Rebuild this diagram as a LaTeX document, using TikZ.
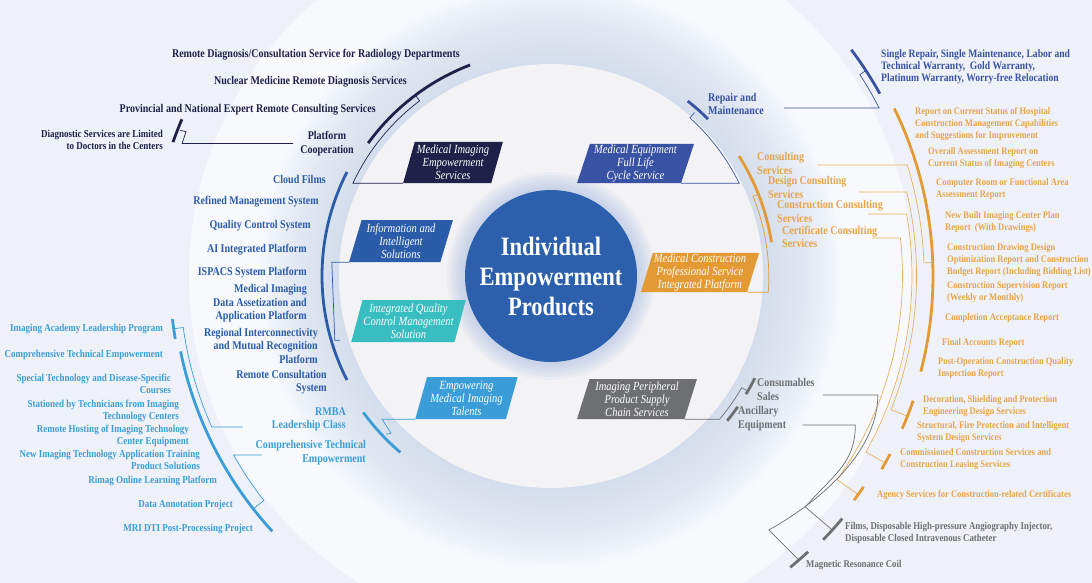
\documentclass[tikz,border=0pt]{standalone}
\usepackage{fontspec}
\setmainfont{Liberation Serif}[FakeStretch=0.85]
\usetikzlibrary{shapes.geometric}
\definecolor{paper}{HTML}{EEF2F8}
\definecolor{halo}{HTML}{F7F9FC}
\definecolor{glow}{HTML}{C9D6EC}
\definecolor{disc}{HTML}{F3F3F5}
\definecolor{coreglow}{HTML}{9FB8E0}
\definecolor{coreblue}{HTML}{2C60AD}
\definecolor{navy}{HTML}{1F2148}
\definecolor{repairblue}{HTML}{3A52A4}
\definecolor{infoblue}{HTML}{2B5CA9}
\definecolor{qcteal}{HTML}{38BEC1}
\definecolor{talentblue}{HTML}{3B9DD8}
\definecolor{supplygrey}{HTML}{6E6F73}
\definecolor{buildorange}{HTML}{E39A35}
\definecolor{buildtext}{HTML}{E8A448}

\begin{document}
\begin{tikzpicture}[x=1pt,y=-1pt,
  tag/.style={trapezium, trapezium left angle=73, trapezium right angle=107, trapezium stretches=true, inner sep=1pt, text=white, align=center, font=\fontsize{12.4}{13}\selectfont\itshape},
  lbl/.style={inner sep=0pt, font=\fontsize{11.8}{13.5}\selectfont\bfseries},
  sml/.style={inner sep=0pt, font=\fontsize{#1}{12}\selectfont\bfseries},
  wire/.style={line width=0.7pt},
  bar/.style={line width=2.8pt}]
\useasboundingbox (0,0) rectangle (1092,583);
\clip (0,0) rectangle (1092,583);
\fill[paper] (0,0) rectangle (1092,583);
\coordinate (c) at (551,276);
\fill[halo] (c) circle (362);
\foreach \r in {290,286,...,214} \fill[glow, opacity=0.05] (c) circle (\r);
\fill[disc] (c) circle (212);
\foreach \r in {104,101,...,88} \fill[coreglow, opacity=0.1] (c) circle (\r);
\node[circle, fill=coreblue, minimum size=172, inner sep=0pt, text=white, align=center, font=\fontsize{26.5}{30}\selectfont\bfseries] (core) at (c) {Individual\\Empowerment\\Products};

\node[tag, fill=navy, minimum width=100, minimum height=41] (mis) at (453,162.5) {Medical Imaging\\Empowerment\\Services};
\node[tag, fill=repairblue, minimum width=117, minimum height=39] (meq) at (635.5,163.5) {Medical Equipment\\Full Life\\Cycle Service};
\node[tag, fill=infoblue, minimum width=104, minimum height=42] (info) at (401,241) {Information and\\Intelligent\\Solutions};
\node[tag, fill=qcteal, minimum width=103, minimum height=42] (iqc) at (408.5,321) {Integrated Quality\\Control Management\\Solution};
\node[tag, fill=talentblue, minimum width=103, minimum height=42] (emt) at (466.5,398) {Empowering\\Medical Imaging\\Talents};
\node[tag, fill=supplygrey, minimum width=120, minimum height=40] (ips) at (637,399) {Imaging Peripheral\\Product Supply\\Chain Services};
\node[tag, fill=buildorange, minimum width=110, minimum height=39] (mcp) at (700,272.5) {Medical Construction\\Professional Service\\Integrated Platform};

\node[lbl, text=navy, anchor=east] (rdcs) at (460,55) {Remote Diagnosis/Consultation Service for Radiology Departments};
\node[lbl, text=navy, anchor=east] (nmrd) at (407,82) {Nuclear Medicine Remote Diagnosis Services};
\node[lbl, text=navy, anchor=east] (pner) at (376,110) {Provincial and National Expert Remote Consulting Services};
\node[lbl, text=navy, align=center] (platform) at (327,143.5) {Platform\\Cooperation};
\node[sml=10.6, text=navy, anchor=east, align=right] (dslim) at (163,140) {Diagnostic Services are Limited\\to Doctors in the Centers};
\draw[bar, navy] (c) ++(216:226) arc[start angle=216, end angle=249, radius=226];
\draw[wire, navy] (mis.bottom left corner) -- ++(-50,0) arc[start angle=205, end angle=233, radius=219] -- ++(233:7);
\draw[bar, navy] (c) ++(199.5:401) arc[start angle=199.5, end angle=203, radius=401];
\draw[wire, navy] ([xshift=-7pt]platform.west) -- ++(-111,0) -- ++(4,-12) -- ++(-6,-1);

\node[lbl, text=repairblue, anchor=west, align=left] (repair) at (708,104) {Repair and\\Maintenance};
\node[sml=11.3, text=repairblue, anchor=west, align=left] (srsm) at (881,67) {Single Repair, Single Maintenance, Labor and\\Technical Warranty,\ \ Gold Warranty,\\Platinum Warranty, Worry-free Relocation};
\draw[wire, repairblue] (meq.bottom right corner) -- ++(58,0) arc[start angle=334, end angle=312, radius=215] -- ++(312:7);
\draw[bar, repairblue] (c) ++(308:222) arc[start angle=308, end angle=315, radius=222];
\draw[wire, repairblue] ([xshift=20pt,yshift=-4pt]repair.east) -- ++(95,0) arc[start angle=333, end angle=327, radius=369] -- ++(327:7);
\draw[bar, repairblue] (c) ++(323:376) arc[start angle=323, end angle=331, radius=376];

\node[lbl, text=buildtext, anchor=west, align=left] (cons) at (757,163.5) {Consulting\\Services};
\node[lbl, text=buildtext, anchor=west, align=left] (des) at (768,187.5) {Design Consulting\\Services};
\node[lbl, text=buildtext, anchor=west, align=left] (con) at (777,211.5) {Construction Consulting\\Services};
\node[lbl, text=buildtext, anchor=west, align=left] (cert) at (782,237) {Certificate Consulting\\Services};
\draw[wire, buildorange] (mcp.bottom right corner) -- ++(21,0) arc[start angle=4, end angle=-22, radius=216] -- ++(-22:7);
\draw[bar, buildorange] (c) ++(-32.5:223) arc[start angle=-32.5, end angle=-8.7, radius=223];
\draw[wire, buildorange!80] ([xshift=13pt,yshift=-1.5pt]cons.east) -- ++(90,0) arc[start angle=-17.3, end angle=-2, radius=373] -- ++(-2:9);
\draw[wire, buildorange!80] ([xshift=12pt,yshift=-4.5pt]des.east) -- ++(48,0) arc[start angle=-13.3, end angle=21.5, radius=365] -- ++(21.5:18);
\draw[wire, buildorange!80] ([xshift=-15pt,yshift=-2.5pt]con.east) -- ++(38.6,0) arc[start angle=-9.9, end angle=29.3, radius=360] -- ++(29.3:23);
\draw[wire, buildorange!80] ([xshift=-5pt,yshift=-1pt]cert.east) -- ++(28,0) arc[start angle=-6.2, end angle=35.5, radius=351] -- ++(35.5:26);
\draw[bar, buildorange] (c) ++(-26:382) arc[start angle=-26, end angle=14.5, radius=382];
\draw[bar, buildorange] (c) ++(19:383) arc[start angle=19, end angle=23.5, radius=383];
\draw[bar, buildorange] (c) ++(27.7:383) arc[start angle=27.7, end angle=30.3, radius=383];
\draw[bar, buildorange] (c) ++(34:377) arc[start angle=34, end angle=36.5, radius=377];
\node[sml=10, text=buildtext, anchor=west, align=left] (rcsh) at (915,124) {Report on Current Status of Hospital\\Construction Management Capabilities\\and Suggestions for Improvement};
\node[sml=10, text=buildtext, anchor=west, align=left] (oar) at (928,158.5) {Overall Assessment Report on\\Current Status of Imaging Centers};
\node[sml=10, text=buildtext, anchor=west, align=left] (crfa) at (936,189.5) {Computer Room or Functional Area\\Assessment Report};
\node[sml=10, text=buildtext, anchor=west, align=left] (nbic) at (945,222.5) {New Built Imaging Center Plan\\Report\ \ (With Drawings)};
\node[sml=10, text=buildtext, anchor=west, align=left] (cddo) at (947,260) {Construction Drawing Design\\Optimization Report and Construction\\Budget Report (Including Bidding List)};
\node[sml=10, text=buildtext, anchor=west, align=left] (csr) at (947,292) {Construction Supervision Report\\(Weekly or Monthly)};
\node[sml=10, text=buildtext, anchor=west] (car) at (945,318) {Completion Acceptance Report};
\node[sml=10, text=buildtext, anchor=west] (far) at (942,343) {Final Accounts Report};
\node[sml=10, text=buildtext, anchor=west, align=left] (pocq) at (938,368.5) {Post-Operation Construction Quality\\Inspection Report};
\node[sml=10, text=buildtext, anchor=west, align=left] (dsp) at (923,406.5) {Decoration, Shielding and Protection\\Engineering Design Services};
\node[sml=10, text=buildtext, anchor=west, align=left] (sfpi) at (917,432) {Structural, Fire Protection and Intelligent\\System Design Services};
\node[sml=10, text=buildtext, anchor=west, align=left] (ccs) at (900,459.5) {Commissioned Construction Services and\\Construction Leasing Services};
\node[sml=10, text=buildtext, anchor=west] (asc) at (877,495) {Agency Services for Construction-related Certificates};

\node[lbl, text=supplygrey, anchor=west, align=left] (csales) at (757,389.5) {Consumables\\Sales};
\node[lbl, text=supplygrey, anchor=west, align=left] (anceq) at (738,418.5) {Ancillary\\Equipment};
\node[sml=10.35, text=supplygrey, anchor=west, align=left] (films) at (845,533) {Films, Disposable High-pressure Angiography Injector,\\Disposable Closed Intravenous Catheter};
\node[sml=10.35, text=supplygrey, anchor=west] (mrc) at (806,565) {Magnetic Resonance Coil};
\draw[wire, supplygrey] (ips.bottom right corner) -- ++(35,0) arc[start angle=40, end angle=30, radius=221] -- ++(30:7);
\draw[bar, supplygrey] (c) ++(26.6:228) arc[start angle=26.6, end angle=31.2, radius=228];
\draw[bar, supplygrey] (c) ++(35:228) arc[start angle=35, end angle=39.4, radius=228];
\draw[wire, supplygrey] ([xshift=8pt,yshift=-5.5pt]csales.east) -- ++(55,0) .. controls +(0,60) and +(45,-25) .. ++(-109,135) -- ++(29,29);
\draw[wire, supplygrey] ([xshift=16pt,yshift=-6.5pt]anceq.east) -- ++(53,0) .. controls +(0,40) and +(25,-30) .. ++(-50,82) -- ++(27,23);
\draw[bar, supplygrey] (c) ++(47:377) arc[start angle=47, end angle=50.6, radius=377];
\draw[bar, supplygrey] (c) ++(39.8:379) arc[start angle=39.8, end angle=44.1, radius=379];

\node[lbl, text=infoblue, anchor=east] (cloud) at (326,179) {Cloud Films};
\node[lbl, text=infoblue, anchor=east] (refined) at (319,201.5) {Refined Management System};
\node[lbl, text=infoblue, anchor=east] (qcs) at (311,226) {Quality Control System};
\node[lbl, text=infoblue, anchor=east] (aiip) at (307,250) {AI Integrated Platform};
\node[lbl, text=infoblue, anchor=east] (ispacs) at (307,273) {ISPACS System Platform};
\node[lbl, text=infoblue, anchor=east, align=right] (midata) at (307,303.5) {Medical Imaging\\Data Assetization and\\Application Platform};
\node[lbl, text=infoblue, anchor=east, align=right] (regional) at (318,345.5) {Regional Interconnectivity\\and Mutual Recognition\\Platform};
\node[lbl, text=infoblue, anchor=east, align=right] (rcs) at (327,382) {Remote Consultation\\System};
\draw[bar, infoblue] (c) ++(207:229) arc[start angle=207, end angle=153, radius=229];
\draw[wire, infoblue] (info.bottom left corner) -- ++(-17,0) -- ++(3,78) -- ++(5,0);

\node[lbl, text=talentblue, anchor=east, align=right] (rmba) at (346,419.5) {RMBA\\Leadership Class};
\node[lbl, text=talentblue, anchor=east, align=right] (cte) at (366,452.5) {Comprehensive Technical\\Empowerment};
\draw[bar, talentblue] (c) ++(144:232) arc[start angle=144, end angle=130.5, radius=232];
\draw[wire, talentblue] (emt.bottom left corner) -- ++(-33,0) -- ++(9,14) -- ++(-5,1);
\draw[wire, talentblue] ([xshift=-29pt,yshift=-7.5pt]rmba.west) -- ++(-31,0) arc[start angle=156, end angle=172, radius=372] -- ++(172:8);
\draw[bar, talentblue] (c) ++(170.5:381) arc[start angle=170.5, end angle=173.5, radius=381];
\draw[wire, talentblue] ([xshift=6pt,yshift=-2.5pt]cte.west) -- ++(-28,0) arc[start angle=150.6, end angle=142, radius=365] -- ++(142:13);
\draw[bar, talentblue] (c) ++(168.5:378) arc[start angle=168.5, end angle=137.5, radius=378];
\node[sml=10.6, text=talentblue, anchor=east] (iap) at (163,329) {Imaging Academy Leadership Program};
\node[sml=10.6, text=talentblue, anchor=east] (ctemp) at (163,355) {Comprehensive Technical Empowerment};
\node[sml=10.6, text=talentblue, anchor=east, align=right] (stds) at (171,384) {Special Technology and Disease-Specific\\Courses};
\node[sml=10.6, text=talentblue, anchor=east, align=right] (stic) at (179,410.5) {Stationed by Technicians from Imaging\\Technology Centers};
\node[sml=10.6, text=talentblue, anchor=east, align=right] (rhit) at (189,436) {Remote Hosting of Imaging Technology\\Center Equipment};
\node[sml=10.6, text=talentblue, anchor=east, align=right] (nita) at (200,460) {New Imaging Technology Application Training\\Product Solutions};
\node[sml=10.6, text=talentblue, anchor=east] (rolp) at (217,481) {Rimag Online Learning Platform};
\node[sml=10.6, text=talentblue, anchor=east] (dap) at (233,505) {Data Annotation Project};
\node[sml=10.6, text=talentblue, anchor=east] (mri) at (253,529) {MRI DTI Post-Processing Project};
\end{tikzpicture}
\end{document}
